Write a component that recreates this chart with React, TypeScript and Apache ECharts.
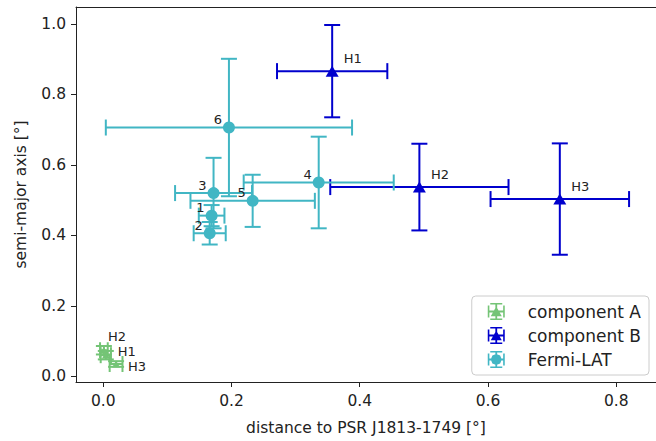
import React, { useEffect, useRef } from "react";
import * as echarts from "echarts";

// ---- data ----
const xTicks = [0.0, 0.2, 0.4, 0.6, 0.8];
const yTicks = [0.0, 0.2, 0.4, 0.6, 0.8, 1.0];

const compANames = ["H1", "H2", "H3"];
const compAX = [0.004, 0.001, 0.02];
const compAY = [0.06, 0.074, 0.035];
const compAXErr = [0.008, 0.006, 0.01];
const compAYErr = [0.012, 0.012, 0.008];

const compBNames = ["H1", "H2", "H3"];
const compBX = [0.357, 0.493, 0.712];
const compBY = [0.866, 0.537, 0.503];
const compBXErr = [0.086, 0.139, 0.108];
const compBYErr = [0.131, 0.123, 0.158];

const fermiNames = ["1", "2", "3", "4", "5", "6"];
const fermiX = [0.169, 0.166, 0.172, 0.336, 0.233, 0.196];
const fermiY = [0.456, 0.406, 0.52, 0.55, 0.498, 0.706];
const fermiXErr = [0.02, 0.025, 0.06, 0.117, 0.097, 0.192];
const fermiYErr = [0.03, 0.032, 0.1, 0.13, 0.074, 0.195];

// ---- styles ----
const COLOR_A = "#74c476";
const COLOR_B = "#0000cd";
const COLOR_F = "#41b6c4";
const FONT = "DejaVu Sans";
const TXT = "#222222";
const AXIS = "#222222";
const compALabelOffsets = [
  [8, -4],
  [0, -14],
  [8, 3],
];

const ERR_ICON =
  "M7.6 0h1.8v17h-1.8z M0 7.6h17v1.8h-17z M2.5 0h12v1.6h-12z M2.5 15.4h12v1.6h-12z M0 2.5h1.6v12h-1.6z M15.4 2.5h1.6v12h-1.6z";
const TRI_ICON = "path://" + ERR_ICON + " M8.5 3.5L14 13.2H3Z";
const CIRC_ICON =
  "path://" +
  ERR_ICON +
  " M8.5 3L12.4 4.6L14 8.5L12.4 12.4L8.5 14L4.6 12.4L3 8.5L4.6 4.6Z";

function errData(x: number[], y: number[], xe: number[], ye: number[]) {
  return x.map((v, i) => [v, y[i], xe[i], ye[i]]);
}

function errSeries(name: string, color: string, data: number[][], z: number) {
  return {
    type: "custom",
    name,
    z,
    silent: true,
    encode: { x: 0, y: 1 },
    data,
    renderItem: (_params: any, api: any) => {
      const x = api.value(0);
      const y = api.value(1);
      const xe = api.value(2);
      const ye = api.value(3);
      const l = api.coord([x - xe, y]);
      const r = api.coord([x + xe, y]);
      const t = api.coord([x, y + ye]);
      const b = api.coord([x, y - ye]);
      const cap = 8;
      const style = { stroke: color, lineWidth: 2 };
      const ln = (x1: number, y1: number, x2: number, y2: number) => ({
        type: "line",
        shape: { x1, y1, x2, y2 },
        style,
      });
      return {
        type: "group",
        children: [
          ln(l[0], l[1], r[0], r[1]),
          ln(t[0], t[1], b[0], b[1]),
          ln(l[0], l[1] - cap, l[0], l[1] + cap),
          ln(r[0], r[1] - cap, r[0], r[1] + cap),
          ln(t[0] - cap, t[1], t[0] + cap, t[1]),
          ln(b[0] - cap, b[1], b[0] + cap, b[1]),
        ],
      };
    },
  };
}

export default function App() {
  const ref = useRef<HTMLDivElement>(null);

  useEffect(() => {
    if (!ref.current) return;
    const chart = echarts.init(ref.current, null, { renderer: "svg" });
    const labelBase = {
      show: true,
      fontFamily: FONT,
      fontSize: 13,
      color: TXT,
      distance: 0,
    };
    const X_MIN = -0.0425;
    const X_MAX = 0.862;
    const Y_MIN = -0.0161;
    const Y_MAX = 1.048;
    const option: any = {
      animation: false,
      backgroundColor: "#ffffff",
      textStyle: { fontFamily: FONT },
      grid: {
        left: 76,
        top: 7,
        width: 581,
        height: 377,
      },
      xAxis: [
        {
          type: "value",
          position: "bottom",
          min: X_MIN,
          max: X_MAX,
          name: "distance to PSR J1813-1749 [°]",
          nameLocation: "middle",
          nameGap: 38,
          nameTextStyle: { fontFamily: FONT, fontSize: 15.5, color: TXT },
          axisLine: { show: true, onZero: false, lineStyle: { color: AXIS, width: 1 } },
          splitLine: { show: false },
          axisTick: {
            show: true,
            length: 5,
            customValues: xTicks,
            lineStyle: { color: AXIS, width: 1 },
          },
          axisLabel: {
            customValues: xTicks,
            margin: 11,
            fontFamily: FONT,
            fontSize: 15.5,
            color: TXT,
            formatter: (v: number) => v.toFixed(1),
          },
        },
        {
          type: "value",
          position: "top",
          min: X_MIN,
          max: X_MAX,
          axisLine: { show: true, onZero: false, lineStyle: { color: AXIS, width: 1 } },
          axisTick: { show: false },
          axisLabel: { show: false },
          splitLine: { show: false },
        },
      ],
      yAxis: [
        {
          type: "value",
          position: "left",
          min: Y_MIN,
          max: Y_MAX,
          name: "semi-major axis [°]",
          nameLocation: "middle",
          nameGap: 47,
          nameTextStyle: { fontFamily: FONT, fontSize: 15.5, color: TXT },
          axisLine: { show: true, onZero: false, lineStyle: { color: AXIS, width: 1 } },
          splitLine: { show: false },
          axisTick: {
            show: true,
            length: 5,
            customValues: yTicks,
            lineStyle: { color: AXIS, width: 1 },
          },
          axisLabel: {
            customValues: yTicks,
            margin: 10,
            fontFamily: FONT,
            fontSize: 15.5,
            color: TXT,
            formatter: (v: number) => v.toFixed(1),
          },
        },
      ],
      legend: {
        orient: "vertical",
        right: 7,
        bottom: 66,
        backgroundColor: "#ffffff",
        borderColor: "#cccccc",
        borderWidth: 1,
        borderRadius: 4,
        padding: [7, 8, 7, 16],
        itemWidth: 17,
        itemHeight: 17,
        itemGap: 7,
        textStyle: {
          fontFamily: FONT,
          fontSize: 17,
          color: TXT,
          padding: [0, 0, 0, 18],
        },
        data: [
          { name: "component A", icon: TRI_ICON },
          { name: "component B", icon: TRI_ICON },
          { name: "Fermi-LAT", icon: CIRC_ICON },
        ],
      },
      series: [
        errSeries("errA", COLOR_A, errData(compAX, compAY, compAXErr, compAYErr), 2),
        {
          type: "scatter",
          name: "component A",
          z: 3,
          symbol: "triangle",
          symbolSize: [8, 7],
          itemStyle: { color: COLOR_A, opacity: 1 },
          data: compAX.map((v, i) => ({
            value: [v, compAY[i]],
            label: {
              ...labelBase,
              position: "right",
              offset: compALabelOffsets[i],
              formatter: compANames[i],
            },
          })),
        },
        errSeries("errB", COLOR_B, errData(compBX, compBY, compBXErr, compBYErr), 4),
        {
          type: "scatter",
          name: "component B",
          z: 5,
          symbol: "triangle",
          symbolSize: [13, 11],
          itemStyle: { color: COLOR_B, opacity: 1 },
          label: {
            ...labelBase,
            position: "right",
            offset: [5, -13],
            formatter: (p: any) => compBNames[p.dataIndex],
          },
          data: compBX.map((v, i) => [v, compBY[i]]),
        },
        errSeries("errF", COLOR_F, errData(fermiX, fermiY, fermiXErr, fermiYErr), 6),
        {
          type: "scatter",
          name: "Fermi-LAT",
          z: 7,
          symbol: "circle",
          symbolSize: 12,
          itemStyle: { color: COLOR_F, opacity: 1 },
          label: {
            ...labelBase,
            position: "left",
            offset: [-1, -8],
            formatter: (p: any) => fermiNames[p.dataIndex],
          },
          data: fermiX.map((v, i) => [v, fermiY[i]]),
        },
      ],
    };
    chart.setOption(option);
    return () => chart.dispose();
  }, []);

  return (
    <div
      ref={ref}
      style={{ position: "fixed", left: 0, top: 0, width: 656, height: 441 }}
    />
  );
}
